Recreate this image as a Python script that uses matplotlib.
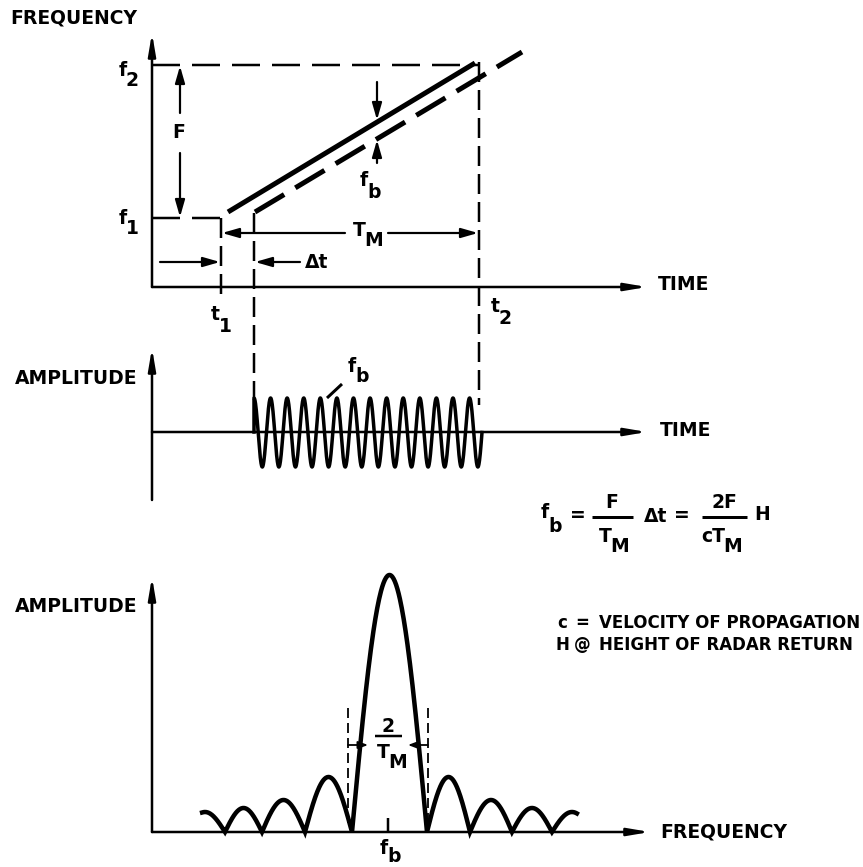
import numpy as np
import matplotlib.pyplot as plt

plt.rcParams['font.family'] = ['DejaVu Sans']
plt.rcParams['lines.scale_dashes'] = False

PX = 0.72  # points per pixel at 100 dpi
FS = 13.5

# whole sheet is drawn in pixel units, y grows downwards
AXIS_X = 152

# frequency vs time sweep
t1_x, dt_x, t2_x = 221, 254, 479
f1_y, f2_y = 218, 65
top_base_y = 287
tx_sweep_x = [228, 475]
tx_sweep_y = [212, 63]
rx_sweep_x = [255, 522]
rx_sweep_y = [212, 52]

# beat signal
mid_base_y = 432
beat_x = [dt_x, 482]
beat_top, beat_bottom = 398, 467
beat_cycles = 13.75

# beat spectrum, one entry per lobe
bot_base_y = 832
lobe_left = [185, 225, 262, 305, 352, 427, 470, 512, 552]
lobe_right = [225, 262, 305, 352, 427, 470, 512, 552, 592]
lobe_height = [20, 24, 32, 55, 257, 55, 32, 24, 20]
spec_span = [202, 577]
fb_x = 388
band_x = [348, 428]


def line(ax, xs, ys, lw=2.5, dash=None):
    ls = '-' if dash is None else (0, (dash[0] * PX, dash[1] * PX))
    ax.plot(xs, ys, color='black', lw=lw * PX, ls=ls, solid_capstyle='butt',
            dash_capstyle='butt')


def arrow(ax, x0, y0, x1, y1, lw=2.2, hl=14, hw=4):
    style = f'-|>,head_length={hl * PX / 10:.2f},head_width={hw * PX / 10:.2f}'
    ax.annotate('', xy=(x1, y1), xytext=(x0, y0),
                arrowprops=dict(arrowstyle=style, mutation_scale=10, lw=lw * PX,
                                color='black', shrinkA=0, shrinkB=0))


def label(ax, x, y, s, sub=None, dx=9, dy=10, ha='center', fs=FS):
    ax.text(x, y, s, ha=ha, va='center', fontsize=fs, fontweight='bold')
    if sub:
        ax.text(x + dx, y + dy, sub, ha='center', va='center', fontsize=fs,
                fontweight='bold')


fig = plt.figure(figsize=(8.63, 8.67), dpi=100)
ax = fig.add_axes([0, 0, 1, 1])
ax.set_xlim(0, 863)
ax.set_ylim(867, 0)
ax.axis('off')

# ---- frequency / time ----
arrow(ax, AXIS_X, top_base_y, AXIS_X, 33, lw=2.5, hl=18, hw=3)
arrow(ax, AXIS_X, top_base_y, 647, top_base_y, lw=2.5, hl=18, hw=3)
ax.text(10, 18, 'FREQUENCY', ha='left', va='center', fontsize=FS, fontweight='bold')
ax.text(658, 284, 'TIME', ha='left', va='center', fontsize=FS, fontweight='bold')

line(ax, [AXIS_X, t2_x], [f2_y, f2_y], lw=2.5, dash=(28, 12))
line(ax, [AXIS_X, t1_x], [f1_y, f1_y], lw=2.5, dash=(28, 12))
line(ax, [t1_x, t1_x], [f1_y, 298], lw=2.5, dash=(20, 8))
line(ax, [dt_x, dt_x], [213, beat_top], lw=2.5, dash=(20, 8))
line(ax, [t2_x, t2_x], [f2_y - 3, 405], lw=2.5, dash=(20, 8))

line(ax, tx_sweep_x, tx_sweep_y, lw=5)
line(ax, rx_sweep_x, rx_sweep_y, lw=5, dash=(34, 13))

label(ax, 123, 70, 'f', '2', dx=9, dy=11)
label(ax, 123, 219, 'f', '1', dx=9, dy=10)
label(ax, 215, 315, 't', '1', dx=10, dy=11)
label(ax, 495, 307, 't', '2', dx=10, dy=11)

# F span
arrow(ax, 180, 113, 180, 66)
arrow(ax, 180, 153, 180, 217)
label(ax, 179, 132, 'F')

# beat offset between the sweeps
arrow(ax, 377, 82, 377, 120)
arrow(ax, 377, 163, 377, 140)
label(ax, 364, 180, 'f', 'b', dx=10, dy=12)

# sweep period
arrow(ax, 345, 233, t1_x + 1, 233)
arrow(ax, 388, 233, t2_x - 1, 233)
label(ax, 359, 230, 'T', 'M', dx=15, dy=10)

# round trip delay
arrow(ax, 160, 262, t1_x - 1, 262)
arrow(ax, 300, 262, dt_x + 1, 262)
ax.text(305, 262, 'Δt', ha='left', va='center', fontsize=FS, fontweight='bold')

# ---- beat signal ----
arrow(ax, AXIS_X, 500, AXIS_X, 348, lw=2.5, hl=18, hw=3)
arrow(ax, AXIS_X, mid_base_y, 647, mid_base_y, lw=2.5, hl=18, hw=3)
ax.text(137, 378, 'AMPLITUDE', ha='right', va='center', fontsize=FS, fontweight='bold')
ax.text(660, 431, 'TIME', ha='left', va='center', fontsize=FS, fontweight='bold')

bx = np.linspace(beat_x[0], beat_x[1], 1200)
mid = (beat_top + beat_bottom) / 2
amp = (beat_bottom - beat_top) / 2
by = mid - amp * np.cos(2 * np.pi * beat_cycles * (bx - bx[0]) / (bx[-1] - bx[0]))
ax.plot(np.r_[bx[0], bx], np.r_[mid_base_y, by], color='black', lw=3.5 * PX,
        solid_joinstyle='round')
line(ax, [342, 327], [384, 398], lw=3)
label(ax, 352, 366, 'f', 'b', dx=10, dy=11)

# formula
label(ax, 545, 512, 'f', 'b', dx=10, dy=14)
ax.text(578, 516, '=', ha='center', va='center', fontsize=FS, fontweight='bold')
line(ax, [592, 633], [517, 517], lw=3)
label(ax, 612, 502, 'F')
label(ax, 605, 536, 'T', 'M', dx=15, dy=10)
ax.text(656, 516, 'Δt', ha='center', va='center', fontsize=FS, fontweight='bold')
ax.text(682, 516, '=', ha='center', va='center', fontsize=FS, fontweight='bold')
line(ax, [702, 747], [517, 517], lw=3)
label(ax, 724, 502, '2F')
label(ax, 713, 536, 'cT', 'M', dx=20, dy=10)
label(ax, 762, 515, 'H')

# legend
LFS = 12
ax.text(562, 623, 'c', ha='center', va='center', fontsize=LFS, fontweight='bold')
ax.text(582, 623, '=', ha='center', va='center', fontsize=LFS, fontweight='bold')
ax.text(599, 623, 'VELOCITY OF PROPAGATION', ha='left', va='center', fontsize=LFS,
        fontweight='bold')
ax.text(562, 645, 'H', ha='center', va='center', fontsize=LFS, fontweight='bold')
ax.text(582, 645, '@', ha='center', va='center', fontsize=LFS, fontweight='bold')
ax.text(599, 645, 'HEIGHT OF RADAR RETURN', ha='left', va='center', fontsize=LFS,
        fontweight='bold')

# ---- spectrum ----
arrow(ax, AXIS_X, bot_base_y, AXIS_X, 577, lw=2.5, hl=18, hw=3)
arrow(ax, AXIS_X, bot_base_y, 650, bot_base_y, lw=2.5, hl=18, hw=3)
ax.text(137, 606, 'AMPLITUDE', ha='right', va='center', fontsize=FS, fontweight='bold')
ax.text(660, 832, 'FREQUENCY', ha='left', va='center', fontsize=FS, fontweight='bold')

sx, sy = [], []
for a, b, h in zip(lobe_left, lobe_right, lobe_height):
    xs = np.linspace(a, b, 120)
    shape = np.sin(np.pi * (xs - a) / (b - a))
    keep = (xs >= spec_span[0]) & (xs <= spec_span[1])
    sx.extend(xs[keep])
    sy.extend(bot_base_y - h * shape[keep])
ax.plot(sx, sy, color='black', lw=4.5 * PX, solid_joinstyle='miter')

line(ax, [fb_x, fb_x], [bot_base_y, 818], lw=2.5)
label(ax, 384, 848, 'f', 'b', dx=10, dy=9)

for bxl in band_x:
    line(ax, [bxl, bxl], [708, 827], lw=1.8, dash=(10, 5))
arrow(ax, band_x[0], 745, 368, 745, lw=1.8, hl=8, hw=3)
arrow(ax, band_x[1], 745, 408, 745, lw=1.8, hl=8, hw=3)
label(ax, 388, 726, '2')
line(ax, [375, 402], [736, 736], lw=2.5)
label(ax, 383, 753, 'T', 'M', dx=15, dy=9)

fig.savefig('out.png', dpi=100)
